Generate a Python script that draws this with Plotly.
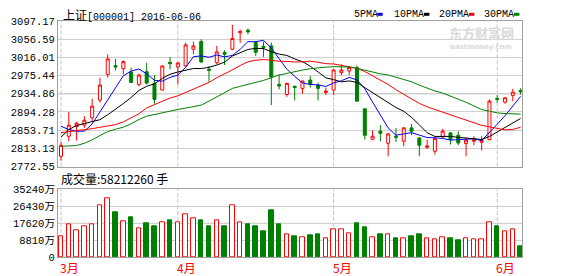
import plotly.graph_objects as go

# ---------------- data ----------------
dates = ["2016-03-11", "2016-03-14", "2016-03-15", "2016-03-16", "2016-03-17", "2016-03-18",
         "2016-03-21", "2016-03-22", "2016-03-23", "2016-03-24", "2016-03-25", "2016-03-28",
         "2016-03-29", "2016-03-30", "2016-03-31",
         "2016-04-01", "2016-04-05", "2016-04-06", "2016-04-07", "2016-04-08", "2016-04-11",
         "2016-04-12", "2016-04-13", "2016-04-14", "2016-04-15", "2016-04-18", "2016-04-19",
         "2016-04-20", "2016-04-21", "2016-04-22", "2016-04-25", "2016-04-26", "2016-04-27",
         "2016-04-28", "2016-04-29",
         "2016-05-03", "2016-05-04", "2016-05-05", "2016-05-06", "2016-05-09", "2016-05-10",
         "2016-05-11", "2016-05-12", "2016-05-13", "2016-05-16", "2016-05-17", "2016-05-18",
         "2016-05-19", "2016-05-20", "2016-05-23", "2016-05-24", "2016-05-25", "2016-05-26",
         "2016-05-27", "2016-05-30", "2016-05-31",
         "2016-06-01", "2016-06-02", "2016-06-03", "2016-06-06"]

open_ = [2795.3, 2840.1, 2861.7, 2864.7, 2881.1, 2920.7, 2978.1, 2997.5, 2990.8, 2983.4,
         2955.7, 2984.1, 2958.0, 2943.1, 3005.0, 2994.5, 2996.8, 3034.1, 3051.3, 2989.3,
         3004.2, 3026.6, 3034.1, 3070.7, 3076.6, 3049.0, 3040.8, 3041.6, 2955.7, 2933.3,
         2951.3, 2946.8, 2965.4, 2954.2, 2937.8, 2943.1, 2981.9, 2985.6, 2993.1, 2901.3,
         2833.3, 2851.3, 2824.4, 2840.1, 2828.9, 2858.7, 2836.3, 2815.4, 2806.5, 2838.6,
         2847.5, 2842.3, 2823.6, 2828.9, 2826.6, 2832.6, 2924.4, 2916.2, 2931.1, 2942.3]
high = [2827.4, 2893.8, 2872.2, 2884.8, 2923.6, 2970.7, 3022.9, 3012.5, 3009.5, 2993.1,
        2979.6, 3004.2, 2976.6, 2998.3, 3016.9, 3005.7, 3049.0, 3051.3, 3056.5, 2996.8,
        3041.6, 3031.9, 3088.6, 3078.1, 3080.4, 3052.8, 3051.3, 3049.0, 2978.1, 2959.5,
        2953.5, 2964.7, 2974.4, 2959.5, 2948.3, 2989.3, 3000.5, 2996.8, 2998.3, 2902.0,
        2853.5, 2864.7, 2847.5, 2858.7, 2860.2, 2867.7, 2837.8, 2832.6, 2836.3, 2856.5,
        2849.8, 2851.3, 2837.8, 2840.1, 2840.1, 2922.2, 2931.9, 2927.4, 2946.0, 2946.8]
low = [2785.6, 2828.9, 2830.4, 2858.7, 2873.6, 2914.7, 2970.7, 2987.1, 2978.1, 2958.7,
       2951.3, 2955.7, 2912.5, 2942.3, 2989.3, 2955.7, 2995.3, 3022.9, 3004.2, 2961.7,
       3000.5, 2999.0, 3032.6, 3048.3, 3067.7, 3019.2, 3016.9, 2909.5, 2944.5, 2928.1,
       2919.9, 2934.8, 2948.3, 2919.9, 2931.9, 2931.9, 2976.6, 2976.6, 2916.9, 2832.6,
       2831.1, 2828.9, 2795.3, 2827.4, 2817.7, 2842.3, 2795.3, 2811.7, 2799.0, 2836.3,
       2821.4, 2819.9, 2795.3, 2819.9, 2808.0, 2831.1, 2914.7, 2912.5, 2918.4, 2933.3]
close = [2819.9, 2864.7, 2869.2, 2875.9, 2907.2, 2954.2, 3012.5, 2994.5, 3006.5, 2960.2,
         2976.6, 2958.7, 2922.2, 2996.8, 3002.0, 3003.5, 3043.8, 3041.6, 3005.7, 2987.1,
         3028.1, 3022.9, 3058.0, 3073.7, 3072.9, 3027.4, 3037.8, 2972.2, 2952.0, 2958.0,
         2949.0, 2963.2, 2955.7, 2946.8, 2940.8, 2987.8, 2987.8, 2993.1, 2918.4, 2842.3,
         2840.1, 2846.8, 2845.3, 2837.8, 2858.7, 2851.3, 2819.9, 2818.4, 2834.8, 2851.3,
         2832.6, 2825.1, 2831.1, 2831.9, 2831.1, 2918.4, 2922.2, 2925.9, 2938.6, 2939.3]

ma5 = [2862.4, 2855.0, 2851.3, 2851.3, 2867.4, 2894.2, 2923.8, 2948.9, 2975.0, 2985.6,
       2990.1, 2979.3, 2964.8, 2962.9, 2971.3, 2976.6, 2993.7, 3017.5, 3019.3, 3016.3,
       3021.3, 3017.1, 3020.4, 3034.0, 3051.1, 3051.0, 3054.0, 3036.8, 3012.5, 2989.5,
       2973.8, 2958.9, 2955.6, 2954.5, 2951.1, 2958.9, 2963.8, 2971.3, 2965.6, 2945.9,
       2916.3, 2888.1, 2858.6, 2842.5, 2845.7, 2848.0, 2842.6, 2837.2, 2836.6, 2835.1,
       2831.4, 2832.4, 2835.0, 2834.4, 2830.4, 2847.5, 2866.9, 2885.9, 2907.2, 2928.9]
ma10 = [2838.0, 2855.0, 2864.0, 2868.0, 2872.0, 2877.0, 2888.0, 2900.0, 2913.0, 2926.5,
        2942.2, 2951.6, 2956.9, 2969.0, 2978.5, 2983.4, 2986.5, 2991.2, 2991.1, 2993.8,
        2999.0, 3005.4, 3019.0, 3026.7, 3033.7, 3036.2, 3035.6, 3028.6, 3023.3, 3020.3,
        3012.4, 3006.5, 2996.2, 2983.5, 2970.3, 2966.4, 2961.4, 2963.5, 2960.1, 2948.5,
        2937.6, 2926.0, 2915.0, 2904.1, 2895.8, 2882.2, 2865.4, 2847.9, 2839.6, 2840.4,
        2839.7, 2837.5, 2836.1, 2835.5, 2832.8, 2839.5, 2849.7, 2860.5, 2870.8, 2879.7]
ma20 = [2848.0, 2850.0, 2852.0, 2854.0, 2857.0, 2860.0, 2863.0, 2866.0, 2872.0, 2882.0,
        2890.1, 2903.3, 2910.5, 2918.5, 2925.3, 2930.2, 2937.3, 2945.6, 2952.1, 2960.2,
        2970.6, 2978.5, 2988.0, 2997.9, 3006.1, 3009.8, 3011.1, 3009.9, 3007.2, 3007.1,
        3005.7, 3006.0, 3007.6, 3005.1, 3002.0, 3001.3, 2998.5, 2996.1, 2991.7, 2984.4,
        2975.0, 2966.3, 2955.6, 2943.8, 2933.1, 2924.3, 2913.4, 2905.7, 2899.9, 2894.5,
        2888.7, 2881.8, 2875.6, 2869.8, 2864.3, 2860.9, 2857.6, 2854.2, 2855.2, 2860.1]
ma30 = [2817.7, 2818.4, 2819.2, 2824.4, 2831.9, 2841.6, 2850.5, 2855.7, 2860.2, 2867.7,
        2877.4, 2884.8, 2888.6, 2893.1, 2896.8, 2899.8, 2902.8, 2905.7, 2909.5, 2918.4,
        2928.1, 2937.8, 2946.8, 2951.3, 2955.7, 2960.2, 2964.7, 2970.7, 2976.6, 2980.2,
        2984.5, 2987.8, 2990.7, 2993.1, 2994.2, 2995.3, 2994.5, 2994.4, 2991.5, 2987.5,
        2983.0, 2979.3, 2976.7, 2971.4, 2966.6, 2961.6, 2954.1, 2946.7, 2941.0, 2936.4,
        2929.9, 2923.3, 2915.8, 2907.7, 2899.6, 2896.0, 2892.2, 2890.6, 2890.2, 2889.5]

# volume in 万手
volume = [10623, 16842, 13732, 15805, 16842, 26687, 30315, 23215, 18396, 20624,
          14769, 17515, 15961, 17878, 19070, 17878, 22024, 19951, 19070, 15961,
          18914, 15961, 26687, 17878, 16997, 15961, 13370, 24252, 16997, 11660,
          10779, 10089, 11297, 11815, 9571, 14235, 14235, 12162, 17515, 15442,
          10089, 11815, 11660, 9742, 9742, 10779, 11815, 9742, 9053, 10089,
          9742, 8706, 9571, 9224, 9053, 17862, 15961, 13198, 14235, 5821]

price_ticks = [3097.17, 3056.59, 3016.01, 2975.44, 2934.86, 2894.28, 2853.71, 2813.13, 2772.55]
price_tick_text = ["3097.17", "3056.59", "3016.01", "2975.44", "2934.86",
                   "2894.28", "2853.71", "2813.13", "2772.55"]
vol_ticks = [0, 8810, 17620, 26430, 35240]
vol_tick_text = ["0", "8810万", "17620万", "26430万", "35240万"]
month_labels = ["3月", "4月", "5月", "6月"]
ma_names = ["5PMA", "10PMA", "20PMA", "30PMA"]
title_code = "[000001] 2016-06-06"
title_name = "上证"
volume_text = "成交量:58212260 手"

# ---------------- layout helpers ----------------
W, H = 578, 276
ML, MR, MT, MB = 58, 56, 21, 19
PW, PH = W - ML - MR, H - MT - MB


def px_x(px):
    return (px - ML) / PW


def px_y(py):
    return (H - MB - py) / PH


RED = "#ff0000"
GREEN = "#008000"
MONO = "Liberation Mono, Noto Sans CJK SC"
CJK = "Noto Sans CJK SC"

fig = go.Figure()

fig.add_trace(go.Candlestick(
    x=dates, open=open_, high=high, low=low, close=close,
    xaxis="x", yaxis="y", whiskerwidth=0,
    increasing=dict(line=dict(color=RED, width=1), fillcolor="#ffffff"),
    decreasing=dict(line=dict(color=GREEN, width=1), fillcolor=GREEN),
    showlegend=False, hoverinfo="skip"))

ma_colors = ["#0000ff", "#000000", RED, GREEN]
for name, vals, col in zip(ma_names, [ma5, ma10, ma20, ma30], ma_colors):
    fig.add_trace(go.Scatter(x=dates, y=vals, mode="lines", name=name,
                             line=dict(color=col, width=1), xaxis="x", yaxis="y",
                             showlegend=False, hoverinfo="skip"))

up = [c >= o for o, c in zip(open_, close)]
fig.add_trace(go.Bar(
    x=dates, y=volume, xaxis="x2", yaxis="y2", width=0.58,
    marker=dict(color=["#ffffff" if u else GREEN for u in up],
                line=dict(color=[RED if u else GREEN for u in up], width=1)),
    showlegend=False, hoverinfo="skip"))

xr = [-0.385, 59.18]
main_dom = [px_y(166.5), 1.0]
vol_dom = [0.0, px_y(189.3)]

axis_common = dict(showline=True, mirror=True, linecolor="#a0a0a0", linewidth=1,
                   zeroline=False, fixedrange=True)

shapes = []
# month separators
month_idx = []
for i, d in enumerate(dates):
    if i == 0 or d[5:7] != dates[i - 1][5:7]:
        month_idx.append(i)
for i in month_idx:
    for xref, yref in (("x", "y domain"), ("x2", "y2 domain")):
        shapes.append(dict(type="line", xref=xref, yref=yref, x0=i, x1=i, y0=0, y1=1,
                           line=dict(color="#c4c4c4", width=1, dash="4px,2px"), layer="below"))
# emphasised middle price grid line
shapes.append(dict(type="line", xref="x domain", yref="y", x0=0, x1=1,
                   y0=price_ticks[4], y1=price_ticks[4],
                   line=dict(color="#a8a8a8", width=1), layer="below"))
# dotted middle volume grid line
shapes.append(dict(type="line", xref="x2 domain", yref="y2", x0=0, x1=1,
                   y0=vol_ticks[2], y1=vol_ticks[2],
                   line=dict(color="#ffffff", width=1), layer="below"))
shapes.append(dict(type="line", xref="x2 domain", yref="y2", x0=0, x1=1,
                   y0=vol_ticks[2], y1=vol_ticks[2],
                   line=dict(color="#b8b8b8", width=1, dash="1px,1px"), layer="below"))

annotations = []
annotations.append(dict(
    text='<span style="font-family:Noto Sans CJK SC;font-size:12px">' + title_name + "</span>" + title_code,
    xref="paper", yref="paper", x=px_x(61), y=px_y(14), xanchor="left", yanchor="middle",
    showarrow=False, font=dict(family=MONO, size=10, color="#000000")))

leg_x = [351.5, 392.0, 436.5, 481.5]
sq_x = [377.3, 424.0, 469.0, 514.0]
for name, lx, sx, col in zip(ma_names, leg_x, sq_x, ma_colors):
    annotations.append(dict(text=name, xref="paper", yref="paper", x=px_x(lx), y=px_y(14),
                            xanchor="left", yanchor="middle", showarrow=False,
                            font=dict(family=MONO, size=10, color="#000000")))
    shapes.append(dict(type="rect", xref="paper", yref="paper",
                       x0=px_x(sx), x1=px_x(sx + 5.4), y0=px_y(15.8), y1=px_y(12.8),
                       fillcolor=col, line=dict(width=0)))

annotations.append(dict(text=volume_text, xref="paper", yref="paper", x=px_x(59), y=px_y(178),
                        xanchor="left", yanchor="middle", showarrow=False,
                        font=dict(family=CJK, size=12, color="#000000")))

for lab, i in zip(month_labels, month_idx):
    annotations.append(dict(text=lab, xref="x2", yref="paper", x=i - 0.36, y=px_y(267),
                            xanchor="left", yanchor="middle", showarrow=False,
                            font=dict(family=CJK, size=12, color=RED)))

# watermark
annotations.append(dict(text="<b>东方财富网</b>", xref="paper", yref="paper", x=px_x(481), y=px_y(32.5),
                        xanchor="center", yanchor="middle", showarrow=False, borderpad=0,
                        font=dict(family=CJK, size=13, color="#d9d9d9")))
annotations.append(dict(text="<b>eastmoney.com</b>", xref="paper", yref="paper", x=px_x(481), y=px_y(46.5),
                        xanchor="center", yanchor="middle", showarrow=False, borderpad=0,
                        font=dict(family="DejaVu Sans", size=7, color="#d9d9d9")))

fig.update_layout(
    width=W, height=H, margin=dict(l=ML, r=MR, t=MT, b=MB),
    paper_bgcolor="#ffffff", plot_bgcolor="#ffffff",
    showlegend=False, boxgap=0.45, bargap=0,
    xaxis=dict(type="category", range=xr, domain=[0, 1], anchor="y", showticklabels=False,
               ticks="", showgrid=False, rangeslider=dict(visible=False), **axis_common),
    yaxis=dict(range=[price_ticks[-1], price_ticks[0]], domain=main_dom, anchor="x",
               tickmode="array", tickvals=price_ticks, ticktext=price_tick_text, ticks="",
               showgrid=True, gridcolor="#d0d0d0", gridwidth=1,
               tickfont=dict(family=MONO, size=10.5, color="#000000"), **axis_common),
    xaxis2=dict(type="category", range=xr, domain=[0, 1], anchor="y2",
                showticklabels=False, ticks="", showgrid=False, **axis_common),
    yaxis2=dict(range=[0, vol_ticks[-1]], domain=vol_dom, anchor="x2",
                tickmode="array", tickvals=vol_ticks, ticktext=vol_tick_text, ticks="",
                showgrid=True, gridcolor="#d0d0d0", gridwidth=1,
                tickfont=dict(family=MONO, size=10.5, color="#000000"), **axis_common),
    shapes=shapes, annotations=annotations,
)

fig.write_html("out.html", config={"displayModeBar": False})
